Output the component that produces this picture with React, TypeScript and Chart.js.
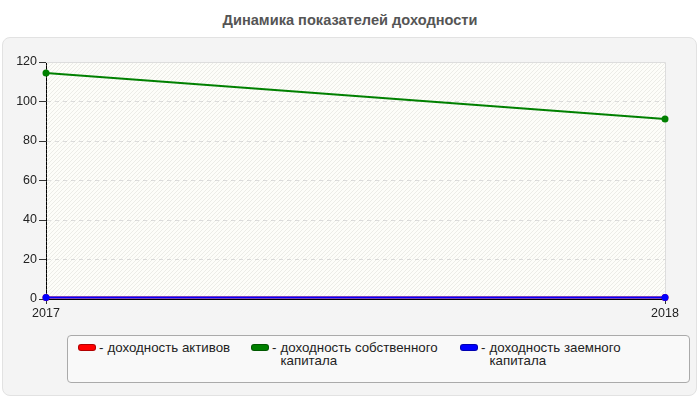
import { useRef, useEffect } from 'react';
import Chart from 'chart.js/auto';

const years = ['2017', '2018'];
const assetsReturn = [0.8, 0.8];
const equityReturn = [114.4, 91.2];
const debtReturn = [0.8, 0.8];
const yTicks = [0, 20, 40, 60, 80, 100, 120];

const seriesNames = [
  'доходность активов',
  'доходность собственного капитала',
  'доходность заемного капитала',
];
const seriesColors = ['#ff0000', '#008000', '#0000ff'];

const FONT = "'Liberation Sans', Arial, sans-serif";

// hatched plot background + light frame on top/right
const plotBackground = {
  id: 'plotBackground',
  beforeDatasetsDraw(chart: Chart) {
    const { ctx, chartArea: a } = chart;
    ctx.save();
    ctx.beginPath();
    ctx.rect(a.left, a.top, a.right - a.left, a.bottom - a.top);
    ctx.clip();
    ctx.strokeStyle = 'rgba(200, 200, 190, 0.3)';
    ctx.lineWidth = 1;
    const h = a.bottom - a.top;
    for (let x = a.left - h; x < a.right; x += 4) {
      ctx.beginPath();
      ctx.moveTo(x, a.bottom);
      ctx.lineTo(x + h, a.top);
      ctx.stroke();
    }
    ctx.restore();
    ctx.save();
    ctx.strokeStyle = '#dddddd';
    ctx.lineWidth = 1;
    ctx.beginPath();
    ctx.moveTo(a.left, a.top + 0.5);
    ctx.lineTo(a.right + 0.5, a.top + 0.5);
    ctx.lineTo(a.right + 0.5, a.bottom);
    ctx.stroke();
    ctx.restore();
  },
  beforeDraw(chart: Chart) {
    const { ctx, chartArea: a } = chart;
    ctx.save();
    ctx.fillStyle = '#fdfdf9';
    ctx.fillRect(a.left, a.top, a.right - a.left, a.bottom - a.top);
    ctx.restore();
  },
};

const ReturnsChart = () => {
  const chartRef = useRef<HTMLCanvasElement | null>(null);
  const chartInstance = useRef<Chart | null>(null);

  useEffect(() => {
    if (!chartRef.current) return;
    if (chartInstance.current) chartInstance.current.destroy();

    const values = [assetsReturn, equityReturn, debtReturn];

    chartInstance.current = new Chart(chartRef.current, {
      type: 'line',
      data: {
        labels: years,
        datasets: values.map((data, i) => ({
          label: seriesNames[i],
          data,
          borderColor: seriesColors[i],
          backgroundColor: seriesColors[i],
          borderWidth: 2,
          pointRadius: 3.5,
          pointBorderWidth: 0,
          tension: 0,
          clip: false as any,
          order: 2 - i,
        })),
      },
      options: {
        animation: false,
        responsive: false,
        maintainAspectRatio: false,
        layout: { padding: { left: 0, right: 35, top: 62, bottom: 80 } },
        plugins: {
          legend: { display: false },
          title: { display: false },
          tooltip: { enabled: false },
        },
        scales: {
          x: {
            offset: false,
            grid: { drawOnChartArea: false, tickLength: 5, tickColor: '#333' },
            border: { color: '#000', width: 1 },
            ticks: { color: '#222', font: { family: FONT, size: 12.5 }, padding: 2, maxRotation: 0 },
            afterFit: (scale: any) => { scale.height = 21; },
          },
          y: {
            min: 0,
            max: 120,
            afterBuildTicks: (scale: any) => { scale.ticks = yTicks.map(v => ({ value: v })); },
            grid: { color: '#dcdcdc', tickColor: '#333', tickLength: 7, tickBorderDash: [] },
            border: { color: '#000', width: 1, dash: [4, 4] },
            ticks: { color: '#222', font: { family: FONT, size: 12.5 }, padding: 2 },
            afterFit: (scale: any) => { scale.width = 46; },
          },
        },
      },
      plugins: [plotBackground],
    });

    return () => {
      if (chartInstance.current) {
        chartInstance.current.destroy();
        chartInstance.current = null;
      }
    };
  }, []);

  return (
    <canvas
      ref={chartRef}
      width={700}
      height={400}
      style={{ position: 'absolute', left: 0, top: 0, width: 700, height: 400 }}
    />
  );
};

const legendLeft = [78, 251, 460];

export default function App() {
  useEffect(() => {
    document.body.style.margin = '0';
  }, []);

  return (
    <div style={{ position: 'relative', width: 700, height: 400, fontFamily: FONT, overflow: 'hidden', background: '#fff' }}>
      <div
        style={{
          position: 'absolute', left: 0, top: 11, width: 700, textAlign: 'center',
          fontWeight: 'bold', fontSize: 14.6, color: '#555', lineHeight: '18px',
        }}
      >
        Динамика показателей доходности
      </div>
      <div
        style={{
          position: 'absolute', left: 2, top: 37, width: 693, height: 357,
          border: '1px solid #e2e2e2', borderRadius: 8, background: '#f4f4f4',
        }}
      />
      <ReturnsChart />
      <div
        style={{
          position: 'absolute', left: 67, top: 335, width: 621, height: 46,
          border: '1px solid #aaa', borderRadius: 4, background: '#f9f9f9',
        }}
      />
      {seriesNames.map((name, i) => (
        <div
          key={name}
          style={{
            position: 'absolute', left: legendLeft[i], top: 341, display: 'flex',
            alignItems: 'flex-start', fontSize: 13.3, color: '#222', lineHeight: '13px',
          }}
        >
          <span
            style={{
              display: 'inline-block', width: 16, height: 5, marginTop: 3,
              background: seriesColors[i], border: '1px solid rgba(0,0,0,0.3)', borderRadius: 3,
            }}
          />
          <span style={{ margin: '0 4px 0 3px' }}>-</span>
          <span style={{ width: 165 }}>{name}</span>
        </div>
      ))}
    </div>
  );
}
